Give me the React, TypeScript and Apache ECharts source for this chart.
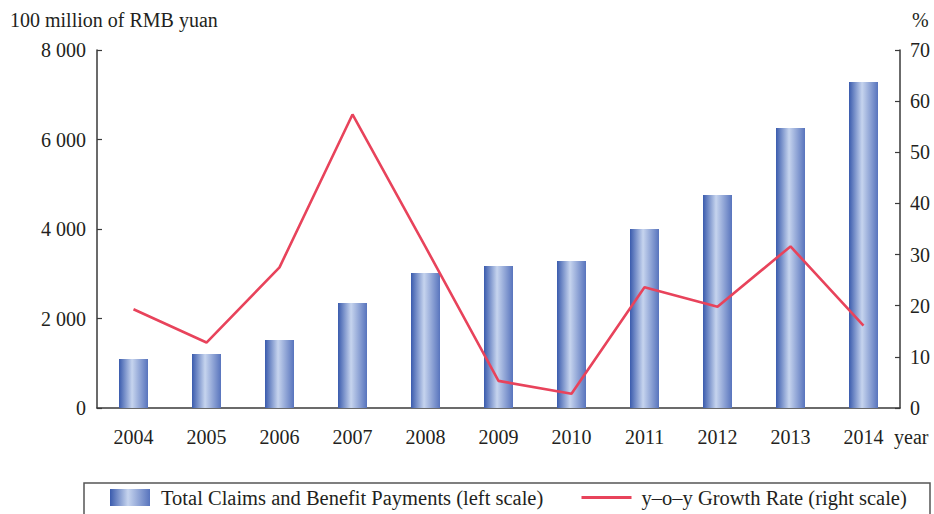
import React, { useEffect, useRef } from "react";
import * as echarts from "echarts";

const years = ["2004", "2005", "2006", "2007", "2008", "2009", "2010", "2011", "2012", "2013", "2014"];
const claims = [1095, 1205, 1520, 2345, 3015, 3175, 3285, 4000, 4760, 6255, 7285];
const growth = [19.3, 12.8, 27.5, 57.4, 31.5, 5.3, 2.8, 23.6, 19.8, 31.6, 16.1];
const leftTicks = [0, 2000, 4000, 6000, 8000];
const rightTicks = [0, 10, 20, 30, 40, 50, 60, 70];

const barName = "Total Claims and Benefit Payments (left scale)";
const lineName = "y\u2013o\u2013y Growth Rate (right scale)";
const FONT = "Liberation Serif";
const TXT = "#231f20";
const AXIS = "#3a3a3a";

const fmt = (v: number) => {
  const s = String(v);
  return s.length > 3 ? s.slice(0, s.length - 3) + " " + s.slice(-3) : s;
};

export default function App() {
  const ref = useRef<HTMLDivElement>(null);
  useEffect(() => {
    document.body.style.margin = "0";
    const chart = echarts.init(ref.current!, null, { renderer: "svg" });
    const barGrad = new echarts.graphic.LinearGradient(0, 0, 1, 0, [
      { offset: 0, color: "#3a5bad" },
      { offset: 0.45, color: "#c6d4ee" },
      { offset: 1, color: "#5874bd" },
    ]);
    chart.setOption({
      animation: false,
      textStyle: { fontFamily: FONT, color: TXT },
      grid: { left: 97, right: 34, top: 50, bottom: 106, containLabel: false },
      xAxis: {
        type: "category",
        data: years,
        boundaryGap: true,
        axisLine: { lineStyle: { color: AXIS, width: 1.5 } },
        axisTick: { inside: true, length: 5, lineStyle: { color: AXIS, width: 1.2 } },
        axisLabel: { fontFamily: FONT, fontSize: 20, color: TXT, margin: 19 },
      },
      yAxis: [
        {
          type: "value",
          min: leftTicks[0],
          max: leftTicks[leftTicks.length - 1],
          interval: 2000,
          axisLine: { show: true, lineStyle: { color: AXIS, width: 1.5 } },
          axisTick: { show: true, inside: true, length: 5, lineStyle: { color: AXIS, width: 1.2 } },
          splitLine: { show: false },
          axisLabel: { fontFamily: FONT, fontSize: 20, color: TXT, margin: 11, formatter: (v: number) => fmt(v) },
        },
        {
          type: "value",
          min: rightTicks[0],
          max: rightTicks[rightTicks.length - 1],
          interval: 10,
          position: "right",
          axisLine: { show: true, lineStyle: { color: AXIS, width: 1.5 } },
          axisTick: { show: true, inside: true, length: 5, lineStyle: { color: AXIS, width: 1.2 } },
          splitLine: { show: false },
          axisLabel: { fontFamily: FONT, fontSize: 20, color: TXT, margin: 10 },
        },
      ],
      legend: [
        {
          data: [{ name: barName, icon: "rect" }],
          left: 105,
          top: 482,
          itemWidth: 40,
          itemHeight: 17,
          textStyle: { fontFamily: FONT, fontSize: 20.5, color: TXT, padding: [0, 0, 0, 6] },
          selectedMode: false,
        },
        {
          data: [{ name: lineName }],
          left: 575,
          top: 482,
          itemWidth: 50,
          itemHeight: 17,
          itemStyle: { opacity: 0 },
          lineStyle: { width: 3 },
          textStyle: { fontFamily: FONT, fontSize: 20.5, color: TXT, padding: [0, 0, 0, 5] },
          selectedMode: false,
        },
      ],
      graphic: [
        {
          type: "text",
          left: 10,
          top: 10,
          style: { text: "100 million of RMB yuan", fontFamily: FONT, fontSize: 20, fill: TXT },
        },
        {
          type: "text",
          left: 912,
          top: 10,
          style: { text: "%", fontFamily: FONT, fontSize: 20, fill: TXT },
        },
        {
          type: "text",
          left: 894,
          top: 427,
          style: { text: "year", fontFamily: FONT, fontSize: 20, fill: TXT },
        },
        {
          type: "rect",
          shape: { x: 84, y: 483, width: 846, height: 60 },
          style: { fill: "none", stroke: "#555", lineWidth: 1.5 },
        },
      ],
      series: [
        {
          name: barName,
          type: "bar",
          data: claims,
          yAxisIndex: 0,
          barWidth: 29,
          itemStyle: { color: barGrad },
        },
        {
          name: lineName,
          type: "line",
          data: growth,
          yAxisIndex: 1,
          symbol: "none",
          lineStyle: { color: "#e8435b", width: 2.6 },
          itemStyle: { color: "#e8435b" },
        },
      ],
    });
    return () => chart.dispose();
  }, []);
  return <div ref={ref} style={{ position: "absolute", left: 0, top: 0, width: 934, height: 514 }} />;
}
